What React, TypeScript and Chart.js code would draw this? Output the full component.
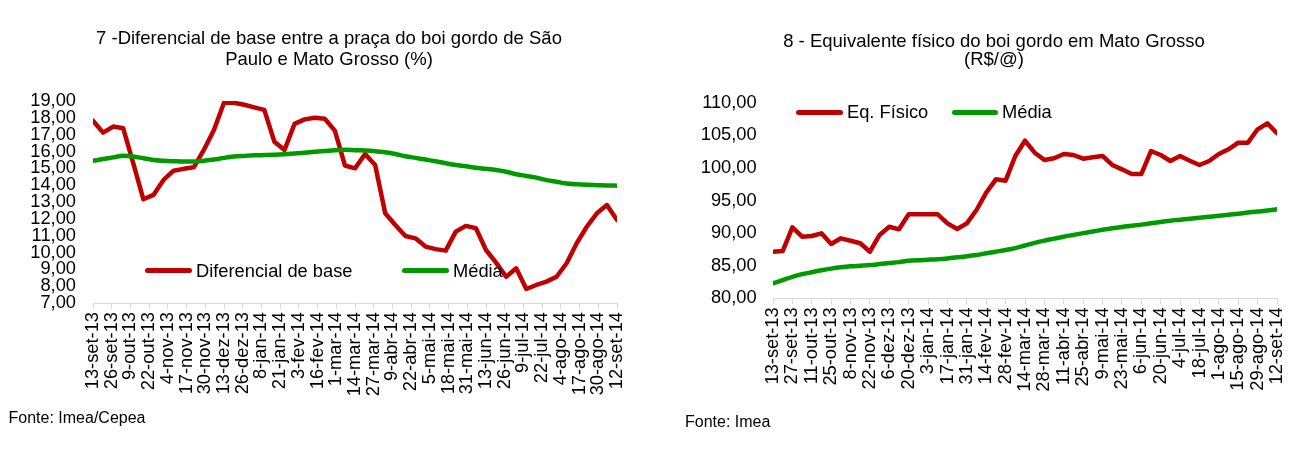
import React, { useEffect, useRef } from "react";
import { Chart, registerables } from "chart.js";

Chart.register(...registerables);

const FONT = '"Liberation Sans", Arial, Helvetica, sans-serif';
const RED = "#c00000";
const GREEN = "#009a00";

// ---------- Chart 7: Diferencial de base (weekly, from 13-set-13) ----------
const diffTitle = ["7 -Diferencial de base entre a praça do boi gordo de São", "Paulo e Mato Grosso (%)"];
const diffTickLabels = [
  "13-set-13", "26-set-13", "9-out-13", "22-out-13", "4-nov-13", "17-nov-13", "30-nov-13",
  "13-dez-13", "26-dez-13", "8-jan-14", "21-jan-14", "3-fev-14", "16-fev-14", "1-mar-14",
  "14-mar-14", "27-mar-14", "9-abr-14", "22-abr-14", "5-mai-14", "18-mai-14", "31-mai-14",
  "13-jun-14", "26-jun-14", "9-jul-14", "22-jul-14", "4-ago-14", "17-ago-14", "30-ago-14", "12-set-14",
];
const diffTickStepDays = 13;
const diffYTicks = [7, 8, 9, 10, 11, 12, 13, 14, 15, 16, 17, 18, 19];
const diffBase = [
  17.83, 17.12, 17.48, 17.38, 15.3, 13.16, 13.42, 14.31, 14.86, 14.97,
  15.06, 16.09, 17.28, 18.9, 18.9, 18.78, 18.62, 18.47, 16.58, 16.09,
  17.64, 17.91, 18.01, 17.95, 17.24, 15.17, 15.0, 15.85, 15.2, 12.33,
  11.63, 10.98, 10.84, 10.35, 10.2, 10.11, 11.24, 11.58, 11.44, 10.15,
  9.4, 8.56, 9.06, 7.83, 8.07, 8.27, 8.56, 9.36, 10.55, 11.53,
  12.33, 12.82, 11.93,
];
const diffMedia = [
  15.45, 15.55, 15.65, 15.75, 15.7, 15.6, 15.5, 15.45, 15.42, 15.4,
  15.4, 15.45, 15.52, 15.62, 15.7, 15.74, 15.77, 15.79, 15.81, 15.84,
  15.88, 15.93, 15.98, 16.03, 16.08, 16.1, 16.08, 16.06, 16.02, 15.95,
  15.85, 15.72, 15.62, 15.52, 15.42, 15.3, 15.2, 15.12, 15.03, 14.97,
  14.9, 14.8, 14.65, 14.55, 14.45, 14.3, 14.2, 14.1, 14.05, 14.02,
  14.0, 13.98, 13.97,
];

// ---------- Chart 8: Equivalente físico (weekly, from 13-set-13) ----------
const eqTitle = ["8 - Equivalente físico do boi gordo em Mato Grosso", "(R$/@)"];
const eqTickLabels = [
  "13-set-13", "27-set-13", "11-out-13", "25-out-13", "8-nov-13", "22-nov-13", "6-dez-13",
  "20-dez-13", "3-jan-14", "17-jan-14", "31-jan-14", "14-fev-14", "28-fev-14", "14-mar-14",
  "28-mar-14", "11-abr-14", "25-abr-14", "9-mai-14", "23-mai-14", "6-jun-14", "20-jun-14",
  "4-jul-14", "18-jul-14", "1-ago-14", "15-ago-14", "29-ago-14", "12-set-14",
];
const eqTickStepDays = 14;
const eqYTicks = [80, 85, 90, 95, 100, 105, 110];
const eqFisico = [
  87.15, 87.25, 90.89, 89.45, 89.55, 89.97, 88.33, 89.2, 88.83, 88.44,
  87.15, 89.71, 90.98, 90.58, 92.88, 92.88, 92.88, 92.88, 91.5, 90.63,
  91.5, 93.54, 96.2, 98.25, 98.04, 101.83, 104.17, 102.33, 101.2, 101.47,
  102.13, 101.98, 101.41, 101.63, 101.83, 100.45, 99.78, 99.06, 99.06, 102.59,
  101.98, 101.06, 101.83, 101.1, 100.45, 101.06, 102.13, 102.85, 103.87, 103.87,
  105.92, 106.84, 105.31,
];
const eqMedia = [
  82.3, 82.8, 83.3, 83.7, 84.0, 84.3, 84.55, 84.75, 84.9, 85.0,
  85.1, 85.25, 85.4, 85.55, 85.75, 85.85, 85.92, 86.0, 86.12, 86.28,
  86.45, 86.65, 86.9, 87.15, 87.4, 87.7, 88.1, 88.5, 88.85, 89.15,
  89.45, 89.72, 90.0, 90.25, 90.5, 90.75, 90.95, 91.12, 91.3, 91.5,
  91.7, 91.9, 92.05, 92.2, 92.35, 92.5, 92.65, 92.82, 92.98, 93.15,
  93.3, 93.48, 93.65,
];

const DAYS_PER_POINT = 7;
const TOTAL_DAYS = 364;

type ChartSpec = {
  tickLabels: string[];
  tickStep: number;
  yTicks: number[];
  main: number[];
  media: number[];
  mainLabel: string;
  yWidth: number;
  xHeight: number;
  padTop: number;
  padRight: number;
  yPad: number;
};

function LineChart({ spec, width, height }: { spec: ChartSpec; width: number; height: number }) {
  const ref = useRef<HTMLCanvasElement | null>(null);
  useEffect(() => {
    if (!ref.current) return;
    const toPts = (arr: number[]) => arr.map((v, i) => ({ x: i * DAYS_PER_POINT, y: v }));
    const tickFont = { family: FONT, size: 18.3 };
    const chart = new Chart(ref.current, {
      type: "line",
      data: {
        datasets: [
          {
            label: "Média",
            data: toPts(spec.media),
            borderColor: GREEN,
            backgroundColor: GREEN,
            borderWidth: 4.5,
            pointRadius: 0,
            cubicInterpolationMode: "monotone",
            borderCapStyle: "round",
            borderJoinStyle: "round",
          },
          {
            label: spec.mainLabel,
            data: toPts(spec.main),
            borderColor: RED,
            backgroundColor: RED,
            borderWidth: 4.5,
            pointRadius: 0,
            tension: 0,
            borderCapStyle: "round",
            borderJoinStyle: "round",
          },
        ],
      },
      options: {
        responsive: false,
        animation: false,
        layout: { padding: { top: spec.padTop, right: spec.padRight, left: 0, bottom: 0 } },
        plugins: { legend: { display: false }, title: { display: false }, tooltip: { enabled: false } },
        scales: {
          x: {
            type: "linear",
            min: 0,
            max: TOTAL_DAYS,
            afterBuildTicks: (s: any) => {
              s.ticks = spec.tickLabels.map((_, i) => ({ value: i * spec.tickStep }));
            },
            afterFit: (s: any) => {
              s.height = spec.xHeight;
            },
            ticks: {
              autoSkip: false,
              minRotation: 90,
              maxRotation: 90,
              padding: 3,
              color: "#000",
              font: tickFont,
              callback: (v: any) => spec.tickLabels[Math.round(Number(v) / spec.tickStep)] ?? "",
            },
            grid: { display: true, drawOnChartArea: false, drawTicks: true, tickLength: 6, color: "#d9d9d9" },
            border: { display: true, color: "#d9d9d9", width: 1 },
          },
          y: {
            type: "linear",
            min: spec.yTicks[0],
            max: spec.yTicks[spec.yTicks.length - 1],
            afterBuildTicks: (s: any) => {
              s.ticks = spec.yTicks.map((v) => ({ value: v }));
            },
            afterFit: (s: any) => {
              s.width = spec.yWidth;
            },
            ticks: {
              autoSkip: false,
              padding: spec.yPad,
              color: "#000",
              font: tickFont,
              callback: (v: any) => Number(v).toFixed(2).replace(".", ","),
            },
            grid: { display: false, drawTicks: false, tickLength: 0 },
            border: { display: false },
          },
        },
      },
    } as any);
    return () => chart.destroy();
  }, [spec]);
  return <canvas ref={ref} width={width} height={height} style={{ position: "absolute", left: 0, top: 0 }} />;
}

function LegendItem({ x, y, color, label, lineW }: { x: number; y: number; color: string; label: string; lineW: number }) {
  return (
    <div style={{ position: "absolute", left: x, top: y - 10, height: 20, display: "flex", alignItems: "center", whiteSpace: "nowrap" }}>
      <div style={{ width: lineW, height: 5, borderRadius: 3, background: color, marginRight: 4 }} />
      <span style={{ font: `18.3px ${FONT}`, lineHeight: "20px", color: "#000" }}>{label}</span>
    </div>
  );
}

const leftSpec: ChartSpec = {
  tickLabels: diffTickLabels,
  tickStep: diffTickStepDays,
  yTicks: diffYTicks,
  main: diffBase,
  media: diffMedia,
  mainLabel: "Diferencial de base",
  yWidth: 93,
  xHeight: 152,
  padTop: 101,
  padRight: 43,
  yPad: 17,
};

const rightSpec: ChartSpec = {
  tickLabels: eqTickLabels,
  tickStep: eqTickStepDays,
  yTicks: eqYTicks,
  main: eqFisico,
  media: eqMedia,
  mainLabel: "Eq. Físico",
  yWidth: 113,
  xHeight: 156.7,
  padTop: 102.7,
  padRight: 31,
  yPad: 16.3,
};

export default function App() {
  return (
    <div style={{ position: "fixed", left: 0, top: 0, width: 1308, height: 455, background: "#fff", overflow: "hidden", fontFamily: FONT }}>
      {/* Left chart */}
      <div style={{ position: "absolute", left: 0, top: 0, width: 660, height: 455 }}>
        <LineChart spec={leftSpec} width={660} height={455} />
        <div style={{ position: "absolute", left: 0, width: 658, top: 26.6, textAlign: "center", font: `18.5px ${FONT}`, lineHeight: "21.3px", color: "#000" }}>
          {diffTitle[0]}
          <br />
          {diffTitle[1]}
        </div>
        <LegendItem x={145} y={270.5} color={RED} label="Diferencial de base" lineW={47} />
        <LegendItem x={402} y={270.5} color={GREEN} label="Média" lineW={47} />
        <div style={{ position: "absolute", left: 8.5, top: 410, font: `16px ${FONT}`, lineHeight: "16px", color: "#000", whiteSpace: "nowrap" }}>
          Fonte: Imea/Cepea
        </div>
      </div>
      {/* Right chart */}
      <div style={{ position: "absolute", left: 660, top: 0, width: 648, height: 455 }}>
        <LineChart spec={rightSpec} width={648} height={455} />
        <div style={{ position: "absolute", left: 0, width: 668, top: 32, textAlign: "center", font: `18.5px ${FONT}`, lineHeight: "18px", color: "#000" }}>
          {eqTitle[0]}
          <br />
          {eqTitle[1]}
        </div>
        <LegendItem x={136} y={112.3} color={RED} label="Eq. Físico" lineW={47} />
        <LegendItem x={292} y={112.3} color={GREEN} label="Média" lineW={46} />
        <div style={{ position: "absolute", left: 25, top: 413.7, font: `16px ${FONT}`, lineHeight: "16px", color: "#000", whiteSpace: "nowrap" }}>
          Fonte: Imea
        </div>
      </div>
    </div>
  );
}
